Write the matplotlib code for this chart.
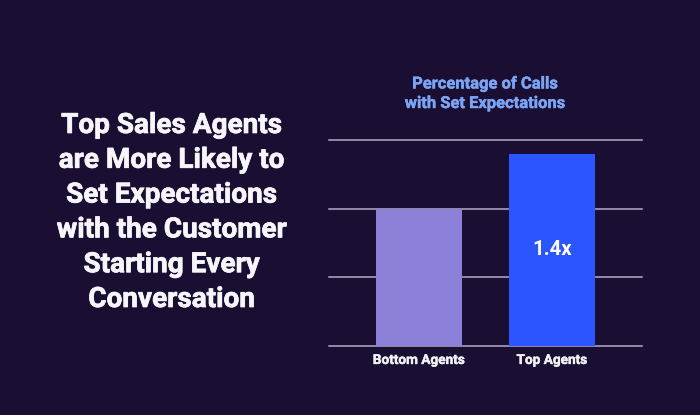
import matplotlib
matplotlib.use("Agg")
import matplotlib.pyplot as plt
import matplotlib.patheffects as pe

categories = ["Bottom Agents", "Top Agents"]
values = [2.0, 2.8]
bar_colors = ["#8c80d8", "#2b55ff"]
grid_ticks = [0, 1, 2, 3]
headline = ["Top Sales Agents", "are More Likely to", "Set Expectations",
            "with the Customer", "Starting Every", "Conversation"]
chart_title = ["Percentage of Calls", "with Set Expectations"]
bar_note = "1.4x"

W, H = 700, 415
BG = "#1a0f33"
fig = plt.figure(figsize=(W / 100, H / 100), dpi=100, facecolor=BG)
ax = fig.add_axes([329 / W, 1 - 346 / H, (642 - 329) / W, (346 - 140) / H], facecolor="none")
ax.set_xlim(-0.677, 1.677)
ax.set_ylim(0, 3)
for s in ax.spines.values():
    s.set_visible(False)
ax.set_yticks(grid_ticks)
ax.tick_params(axis="y", length=0, labelleft=False)
ax.yaxis.grid(True, color="#b3abc6", linewidth=1.1, clip_on=False)
ax.set_axisbelow(True)
for gl in ax.get_ygridlines():
    gl.set_clip_on(False)

x = list(range(len(categories)))
ax.bar(x, values, width=0.647, color=bar_colors, linewidth=0, zorder=3)
ax.set_xticks(x, categories, family="Roboto", fontweight="bold", fontsize=9.8, color="#f4f1f6")
for lab in ax.get_xticklabels():
    lab.set_path_effects([pe.withStroke(linewidth=0.3, foreground="#f4f1f6")])
ax.tick_params(axis="x", length=0, pad=5)
ax.text(1, 1.40, bar_note, ha="center", va="center", family="Roboto", fontweight="bold",
        fontsize=14.7, color="white", zorder=4)

for i, line in enumerate(chart_title):
    fig.text(485 / W, 1 - (84 + 19.5 * i) / H, line, ha="center", va="center", family="Roboto",
             fontweight="bold", fontsize=11.9, color="#7ba4f4",
             path_effects=[pe.withStroke(linewidth=0.3, foreground="#7ba4f4")])

for i, line in enumerate(headline):
    fig.text(171.5 / W, 1 - (125.5 + 34.8 * i) / H, line, ha="center", va="center", family="Roboto",
             fontweight="bold", fontsize=20.1, color="#f8f6fa",
             path_effects=[pe.withStroke(linewidth=0.5, foreground="#f8f6fa")])

fig.savefig("out.png", dpi=100, facecolor=BG)
